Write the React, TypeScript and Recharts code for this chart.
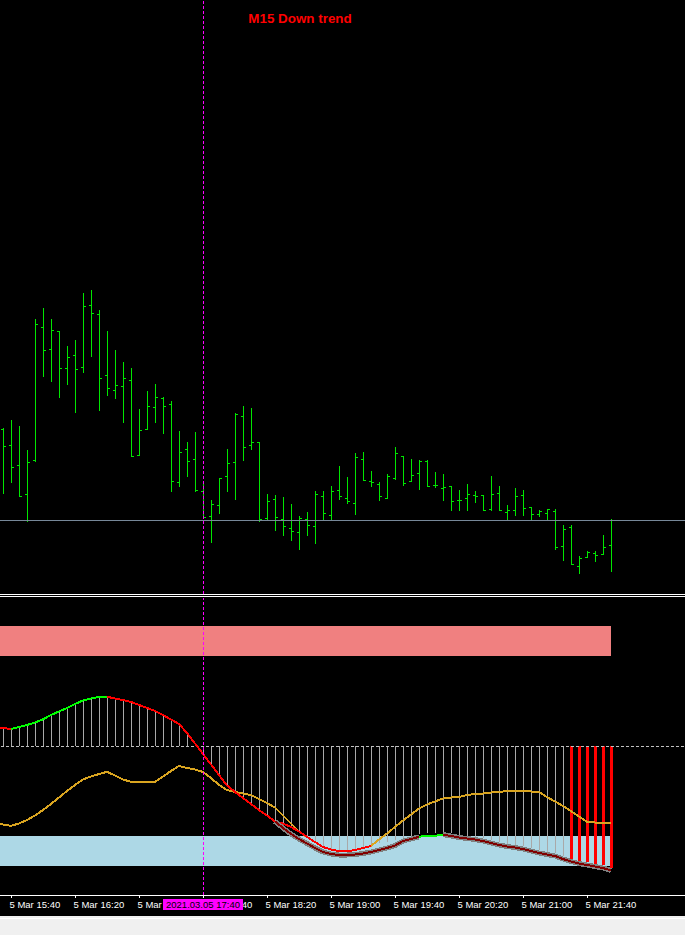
import React from 'react';
import { ComposedChart, Bar, Line, Area, XAxis, YAxis, ReferenceLine, Customized } from 'recharts';

// ---------- price bars (M5), bar 0 = 5 Mar 15:35 ----------
const OPEN = [
  1.19241,1.19225,1.19205,1.19176,1.19210,1.19343,1.19321,1.19339,1.19302,1.19315,
  1.19303,1.19365,1.19356,1.19295,1.19280,1.19284,1.19290,1.19215,1.19241,1.19263,
  1.19272,1.19266,1.19188,1.19221,1.19211,1.19179,1.19154,1.19165,1.19194,1.19208,
  1.19254,1.19225,1.19228,1.19152,1.19171,1.19151,1.19142,1.19138,1.19151,1.19144,
  1.19174,1.19155,1.19180,1.19172,1.19167,1.19211,1.19189,1.19186,1.19172,1.19192,
  1.19214,1.19189,1.19197,1.19209,1.19185,1.19182,1.19184,1.19170,1.19172,1.19175,
  1.19175,1.19161,1.19177,1.19158,1.19160,1.19175,1.19163,1.19156,1.19157,1.19159,
  1.19124,1.19143,1.19104,1.19113,1.19117,1.19116,1.19125,
];
const HIGH = [
  1.19242,1.19250,1.19244,1.19220,1.19351,1.19362,1.19351,1.19339,1.19324,1.19330,
  1.19377,1.19380,1.19360,1.19339,1.19320,1.19308,1.19302,1.19261,1.19279,1.19286,
  1.19273,1.19269,1.19239,1.19228,1.19238,1.19189,1.19170,1.19192,1.19221,1.19257,
  1.19264,1.19262,1.19228,1.19176,1.19175,1.19173,1.19166,1.19154,1.19158,1.19179,
  1.19179,1.19184,1.19204,1.19193,1.19217,1.19218,1.19199,1.19188,1.19196,1.19223,
  1.19214,1.19211,1.19210,1.19210,1.19198,1.19196,1.19184,1.19180,1.19186,1.19179,
  1.19175,1.19194,1.19184,1.19165,1.19182,1.19180,1.19163,1.19160,1.19161,1.19161,
  1.19145,1.19145,1.19114,1.19119,1.19119,1.19135,1.19151,
];
const LOW = [
  1.19177,1.19188,1.19174,1.19149,1.19209,1.19294,1.19289,1.19273,1.19286,1.19258,
  1.19298,1.19314,1.19260,1.19275,1.19272,1.19248,1.19214,1.19215,1.19241,1.19248,
  1.19237,1.19179,1.19184,1.19194,1.19179,1.19152,1.19128,1.19157,1.19179,1.19171,
  1.19210,1.19221,1.19149,1.19150,1.19140,1.19135,1.19130,1.19121,1.19135,1.19127,
  1.19150,1.19150,1.19171,1.19167,1.19156,1.19190,1.19184,1.19170,1.19172,1.19191,
  1.19185,1.19189,1.19181,1.19184,1.19183,1.19170,1.19160,1.19160,1.19160,1.19168,
  1.19160,1.19160,1.19160,1.19150,1.19155,1.19155,1.19150,1.19154,1.19150,1.19121,
  1.19110,1.19106,1.19097,1.19113,1.19109,1.19116,1.19099,
];
const CLOSE = [
  1.19224,1.19203,1.19174,1.19208,1.19346,1.19320,1.19340,1.19302,1.19313,1.19301,
  1.19364,1.19357,1.19292,1.19282,1.19285,1.19292,1.19214,1.19240,1.19264,1.19273,
  1.19264,1.19189,1.19218,1.19209,1.19180,1.19153,1.19166,1.19192,1.19207,1.19256,
  1.19223,1.19228,1.19151,1.19169,1.19153,1.19144,1.19139,1.19152,1.19145,1.19176,
  1.19157,1.19179,1.19174,1.19169,1.19213,1.19190,1.19188,1.19174,1.19194,1.19217,
  1.19187,1.19195,1.19209,1.19184,1.19185,1.19183,1.19169,1.19170,1.19176,1.19174,
  1.19160,1.19176,1.19160,1.19160,1.19174,1.19162,1.19156,1.19159,1.19161,1.19123,
  1.19141,1.19106,1.19112,1.19118,1.19115,1.19123,1.19150,
];
const BID = 1.1915;

// ---------- indicator (values for bar -1 .. 76) ----------
const MAIN = [
  9.25, 9, 8.5, 9.5, 10.5, 11.75, 13.35, 15.5, 17.25, 19, 21,
  22.75, 23.75, 24.5, 24.65, 23.75, 23, 22, 20.5, 19, 17.5,
  15.5, 13.25, 11, 6.5, 1.25, -4, -9.25, -14.5, -19.75, -23,
  -26, -29, -32, -34.75, -37.75, -38.75, -40.5, -42.75, -45.5, -48,
  -50.5, -51.75, -52.5, -52.75, -52, -51, -50, -48.5, -48, -47,
  -46, -45, -44, -43.5, -43.5, -43, -43.5, -44.25, -44.75, -45.25,
  -46, -47, -48, -48.75, -49.25, -50, -51, -52, -52.75, -53.5,
  -55, -56.25, -57.25, -58, -58.75, -59.5, -60.75,
];
const SIGNAL = [
  -38.75, -39.25, -39.9, -38.75, -37, -34.75, -32, -29, -25.75, -22.5, -19.5,
  -16.7, -15.25, -14, -12.9, -14.75, -16.75, -17.9, -17.9, -17.9, -17.9,
  -15.25, -12.5, -10, -11, -11.75, -13, -16, -19.5, -22, -23,
  -23.75, -24.5, -26.5, -28.5, -30.75, -34.75, -38.75, -42.75, -45.5, -48,
  -50.5, -51.75, -52.5, -52.75, -52, -51, -50, -46.75, -43.75, -40.5,
  -37.25, -34.25, -31.25, -29.25, -27.75, -26.2, -25.75, -25.5, -24.5, -24,
  -23.75, -23.25, -23, -22.5, -22.5, -22.5, -22.75, -23, -25.5, -27.75,
  -30, -32.5, -35.25, -38, -38.25, -38.25, -38.4,
];
const LOWER_START = 34; // first bar of the lower line
const LOWER = [
  -37.75, -41, -44, -46.5, -48.75, -51, -53, -54, -54.5, -54.5,
  -54.25, -53.75, -53, -52, -51, -49.75, -47.5, -46.5, -45.4, -44.9,
  -44.9, -44.25, -45, -45.75, -46.25, -46.75, -47.5, -48.5, -49.5, -50.25,
  -50.75, -51.5, -52.5, -53.5, -54.25, -55, -56.5, -57.75, -58.75, -59.5,
  -60.25, -61, -62.25,
];
const UPPER_ZONE = [45, 60];
const LOWER_ZONE = [-60, -45];
const ALERT_TIMES = ['5 Mar 21:30', '5 Mar 21:35', '5 Mar 21:40', '5 Mar 21:45', '5 Mar 21:50', '5 Mar 21:55'];

const TICK_LABELS = [
  '5 Mar 15:40', '5 Mar 16:20', '5 Mar 17:00', '5 Mar 17:40', '5 Mar 18:20',
  '5 Mar 19:00', '5 Mar 19:40', '5 Mar 20:20', '5 Mar 21:00', '5 Mar 21:40',
];
const CROSS_TIME = '5 Mar 17:40';
const CROSS_LABEL = '2021.03.05 17:40';
const TITLE = 'M15 Down trend';

// categories: one slot before bar 0 and empty slots to the right
const START_MIN = 15 * 60 + 30;
const SLOTS = 87;
const pad2 = (n: number) => String(n).padStart(2, '0');
const CATEGORIES = Array.from({ length: SLOTS }, (_, k) => {
  const m = START_MIN + 5 * k;
  return `5 Mar ${pad2(Math.floor(m / 60))}:${pad2(m % 60)}`;
});

// styling of line runs (bar index ranges)
const MAIN_RUNS = [
  { from: -1, to: 1, color: '#ff0000' },
  { from: 1, to: 13, color: '#00ff00' },
  { from: 13, to: 46, color: '#ff0000' },
];
const LOWER_RUNS = [
  { from: 34, to: 52, color: '#800000', outline: true },
  { from: 52, to: 55, color: '#00ff00', outline: false },
  { from: 55, to: 76, color: '#800000', outline: true },
];

const rows = CATEGORIES.map((t, k) => {
  const i = k - 1;
  const r: any = { t };
  if (i >= 0 && i < OPEN.length) {
    r.o = OPEN[i]; r.h = HIGH[i]; r.l = LOW[i]; r.c = CLOSE[i];
  }
  if (k < MAIN.length) {
    r.hist = MAIN[k];
    r.sig = SIGNAL[k];
    r.upZone = UPPER_ZONE;
    r.dnZone = LOWER_ZONE;
    r.alert = ALERT_TIMES.includes(t);
    MAIN_RUNS.forEach((run, j) => {
      if (i >= run.from && i <= run.to) r['main' + j] = MAIN[k];
    });
  }
  const li = i - LOWER_START;
  if (li >= 0 && li < LOWER.length) {
    LOWER_RUNS.forEach((run, j) => {
      if (i >= run.from && i <= run.to) {
        r['low' + j] = LOWER[li];
        if (run.outline) r['lowOut' + j] = LOWER[li];
      }
    });
  }
  return r;
});

const BAR_COLOR = '#00e600';
const FONT = '"Liberation Sans", Arial, sans-serif';

const OhlcShape = (p: any) => {
  const { x, width, y, height, payload } = p;
  if (payload == null || payload.h == null || y == null) return <g />;
  const { o, h, l, c } = payload;
  const top = Math.min(y, y + height);
  const bot = Math.max(y, y + height);
  const span = h - l || 1;
  const py = (v: number) => Math.round(top + ((h - v) / span) * (bot - top));
  const cx = Math.round(x + width / 2);
  const yh = py(h), yl = py(l), yo = py(o), yc = py(c);
  return (
    <g fill={BAR_COLOR}>
      <rect x={cx} y={yh} width={1} height={yl - yh + 1} />
      <rect x={cx - 2} y={yo} width={2} height={1} />
      <rect x={cx + 1} y={yc} width={2} height={1} />
    </g>
  );
};

const HistShape = (p: any) => {
  const { x, width, y, height, payload } = p;
  if (y == null || payload == null) return <g />;
  const cx = Math.round(x + width / 2);
  const top = Math.round(Math.min(y, y + height));
  const bot = Math.round(Math.max(y, y + height));
  if (payload.alert) {
    return <rect x={cx - 1} y={top} width={3} height={bot - top} fill="#ff0000" />;
  }
  return <rect x={cx} y={top} width={1} height={bot - top} fill="#a9a9a9" />;
};

const TimeTick = (p: any) => {
  const { x, y, payload } = p;
  const v = payload && payload.value;
  const isTick = TICK_LABELS.includes(v);
  const isCross = v === CROSS_TIME;
  return (
    <g>
      {isTick && <line x1={x} x2={x} y1={y} y2={y + 3} stroke="#ffffff" />}
      {isTick && (
        <text x={x - 1.5} y={y + 13} fill="#ffffff" fontSize={9.5} fontFamily={FONT} textAnchor="start">
          {v}
        </text>
      )}
      {isCross && (
        <g>
          <rect x={x - 40} y={y + 4} width={80} height={11} fill="#ff00ff" />
          <text x={x} y={y + 13} fill="#000000" fontSize={9.5} fontFamily={FONT} textAnchor="middle">
            {CROSS_LABEL}
          </text>
        </g>
      )}
    </g>
  );
};

const Title = () => (
  <text x={300} y={23} fill="#ff0000" fontSize={13.4} fontWeight="bold" fontFamily={FONT} textAnchor="middle">
    {TITLE}
  </text>
);

export default function App() {
  const W = 687;
  const margin = { top: 0, right: 0, bottom: 0, left: -9 };
  return (
    <div
      className="mt4"
      style={{ position: 'absolute', left: 0, top: 0, width: 685, height: 935, overflow: 'hidden', background: '#000' }}
    >
      <style>{'.mt4 svg path, .mt4 svg rect, .mt4 svg line { shape-rendering: crispEdges; }'}</style>
      <div style={{ position: 'absolute', left: 0, top: 0 }}>
        <ComposedChart width={W} height={594} data={rows} margin={margin}>
          <XAxis dataKey="t" type="category" hide />
          <YAxis hide type="number" domain={[1.19076, 1.1967]} allowDataOverflow />
          <ReferenceLine y={BID} stroke="#778899" strokeWidth={1} />
          <Bar
            dataKey={(d: any) => (d.h != null ? [d.l, d.h] : null)}
            shape={OhlcShape}
            isAnimationActive={false}
          />
          <ReferenceLine x={CROSS_TIME} stroke="#ff00ff" strokeDasharray="3 2" />
          <Customized component={Title} />
        </ComposedChart>
      </div>
      <div style={{ position: 'absolute', left: 0, top: 594, width: 685, height: 1, background: '#fff' }} />
      <div style={{ position: 'absolute', left: 0, top: 596, width: 685, height: 1, background: '#fff' }} />
      <div style={{ position: 'absolute', left: 0, top: 598 }}>
        <ComposedChart width={W} height={318} data={rows} margin={margin}>
          <XAxis
            dataKey="t"
            type="category"
            height={21}
            interval={0}
            axisLine={{ stroke: '#ffffff' }}
            tickLine={false}
            tickSize={0}
            tickMargin={0}
            tick={TimeTick}
          />
          <YAxis hide type="number" domain={[-74.5, 74]} allowDataOverflow />
          <Area dataKey="upZone" type="linear" stroke="none" fill="#f08080" fillOpacity={1} dot={false} activeDot={false} isAnimationActive={false} />
          <Area dataKey="dnZone" type="linear" stroke="none" fill="#add8e6" fillOpacity={1} dot={false} activeDot={false} isAnimationActive={false} />
          <ReferenceLine y={0} stroke="#c0c0c0" strokeDasharray="3 2" />
          <Bar dataKey="hist" shape={HistShape} isAnimationActive={false} />
          <Line dataKey="sig" type="linear" stroke="#daa520" strokeWidth={2} dot={false} activeDot={false} isAnimationActive={false} />
          {MAIN_RUNS.map((run, j) => (
            <Line key={'m' + j} dataKey={'main' + j} type="linear" stroke={run.color} strokeWidth={2} dot={false} activeDot={false} isAnimationActive={false} />
          ))}
          {LOWER_RUNS.map((run, j) =>
            run.outline ? (
              <Line key={'lo' + j} dataKey={'lowOut' + j} type="linear" stroke="#808080" strokeWidth={5} dot={false} activeDot={false} isAnimationActive={false} />
            ) : null
          )}
          {LOWER_RUNS.map((run, j) => (
            <Line key={'l' + j} dataKey={'low' + j} type="linear" stroke={run.color} strokeWidth={2} dot={false} activeDot={false} isAnimationActive={false} />
          ))}
          <ReferenceLine x={CROSS_TIME} stroke="#ff00ff" strokeDasharray="3 2" />
        </ComposedChart>
      </div>
      <div style={{ position: 'absolute', left: 0, top: 916, width: 685, height: 19, background: '#f0f0f0' }} />
      <div style={{ position: 'absolute', left: 0, top: 918, width: 685, height: 1, background: '#ffffff' }} />
    </div>
  );
}
